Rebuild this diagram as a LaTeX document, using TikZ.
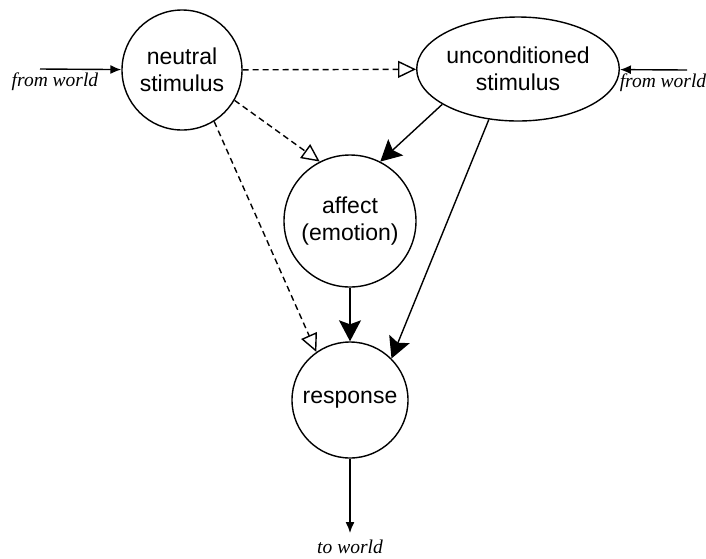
\documentclass[tikz,border=0pt]{standalone}
\usepackage{fontspec}
\setmainfont{Liberation Serif}
\setsansfont{Liberation Sans}
\usetikzlibrary{arrows.meta,shapes.geometric}
\begin{document}
\begin{tikzpicture}[x=1pt,y=-1pt,
    state/.style={draw,circle,line width=1.4pt,inner sep=0pt,align=center,
      font=\sffamily\fontsize{23}{27}\selectfont},
    world/.style={font=\itshape\fontsize{19.5}{20}\selectfont},
    cause/.style={line width=1.4pt,-{Stealth[length=21pt,width=22pt,inset=4pt]}},
    learned/.style={line width=1.4pt,dash pattern=on 6pt off 4pt,-{Triangle[open,length=18pt,width=17pt]}},
    input/.style={line width=1.4pt,-{Latex[length=11pt,width=9pt]}}]
  \useasboundingbox (0,0) rectangle (706,558);
  \node[state,minimum size=120pt] (ns) at (182,70) {neutral\\stimulus};
  \node[state,ellipse,minimum width=172pt,minimum height=104pt] (us) at (518,69) {unconditioned\\stimulus};
  \node[state,minimum size=132pt] (af) at (350,221) {affect\\(emotion)};
  \node[state,minimum size=116pt] (re) at (350,400) {response};
  % inputs and output
  \coordinate (fwl) at (40,69);
  \coordinate (fwr) at (687,70);
  \coordinate (tw) at (350,533);
  \node[world] (fwltext) at (55,82) {from world};
  \node[world] (fwrtext) at (663,83) {from world};
  \node[world] (twtext) at (350,547) {to world};
  \draw[input](fwl)--(ns);
  \draw[input](fwr)--(us);
  \draw[input](re)--(tw);
  % learned links
  \draw[learned](ns)--(us);
  \draw[learned](ns.-30)--(af.117);
  \draw[learned](ns.-58)--(re.125);
  % unconditioned links
  \draw[cause](us.205)--(af.63);
  \draw[cause](us.240)--(re.45);
  \draw[cause](af)--(re);
\end{tikzpicture}
\end{document}
